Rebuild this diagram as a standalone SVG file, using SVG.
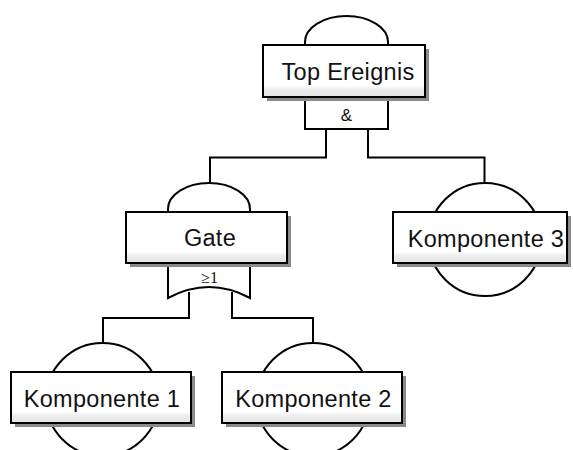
<svg xmlns="http://www.w3.org/2000/svg" width="573" height="450" viewBox="0 0 573 450">
<defs>
<linearGradient id="boxfill" x1="0" y1="0" x2="0" y2="1">
<stop offset="0" stop-color="#ffffff"/>
<stop offset="0.78" stop-color="#ffffff"/>
<stop offset="0.86" stop-color="#ececec"/>
<stop offset="1" stop-color="#e2e2e2"/>
</linearGradient>
</defs>
<style>
.ln{fill:none;stroke:#000;stroke-width:2}
.gate{fill:#fff;stroke:#000;stroke-width:2}
.shadow{fill:#8a8a8a}
.box{fill:url(#boxfill);stroke:#000;stroke-width:2}
.lbl{font-family:"Liberation Sans",Arial,sans-serif;font-size:23.5px;letter-spacing:0.3px;text-anchor:middle;fill:#111}
.sym{font-family:"Liberation Sans",Arial,sans-serif;font-size:17px;text-anchor:middle;fill:#111}
.symr{font-family:"Liberation Serif","Times New Roman",serif;font-size:16px;text-anchor:middle;fill:#111}
</style>
<rect width="573" height="450" fill="#fff"/>
<g id="connectors">
<path class="ln" d="M326,129 V157.5 H210 V185"/>
<path class="ln" d="M368,129 V157.5 H484.5 V185"/>
<path class="ln" d="M189,292 V318 H103 V345"/>
<path class="ln" d="M232,292 V318 H313 V345"/>
</g>
<g id="top-ereignis">
<path class="gate" d="M305,129 V42 A41.5,26 0 0 1 388,42 V129 Z"/>
<text class="sym" x="346.5" y="121">&amp;</text>
<rect class="shadow" x="267" y="49" width="162" height="52"/>
<rect class="box" x="263" y="45" width="162" height="52"/>
<text class="lbl" x="348" y="80">Top Ereignis</text>
</g>
<g id="gate">
<path class="gate" d="M168,298 V209 A41,26 0 0 1 250,209 V298 Q209,276 168,298 Z"/>
<text class="symr" x="209.5" y="283">≥1</text>
<rect class="shadow" x="130" y="216" width="161" height="51"/>
<rect class="box" x="126" y="212" width="161" height="51"/>
<text class="lbl" x="210" y="246">Gate</text>
</g>
<g id="komponente-3">
<circle class="gate" cx="485" cy="239.5" r="56.5"/>
<rect class="shadow" x="397" y="216" width="174" height="51"/>
<rect class="box" x="393" y="212" width="174" height="51"/>
<text class="lbl" x="486" y="246.5">Komponente 3</text>
</g>
<g id="komponente-1">
<circle class="gate" cx="102.5" cy="399.5" r="56.5"/>
<rect class="shadow" x="15" y="376" width="180" height="51"/>
<rect class="box" x="11" y="372" width="180" height="51"/>
<text class="lbl" x="102" y="407">Komponente 1</text>
</g>
<g id="komponente-2">
<circle class="gate" cx="313" cy="399.5" r="56.5"/>
<rect class="shadow" x="226" y="376" width="180" height="51"/>
<rect class="box" x="222" y="372" width="180" height="51"/>
<text class="lbl" x="313.5" y="407">Komponente 2</text>
</g>
</svg>
